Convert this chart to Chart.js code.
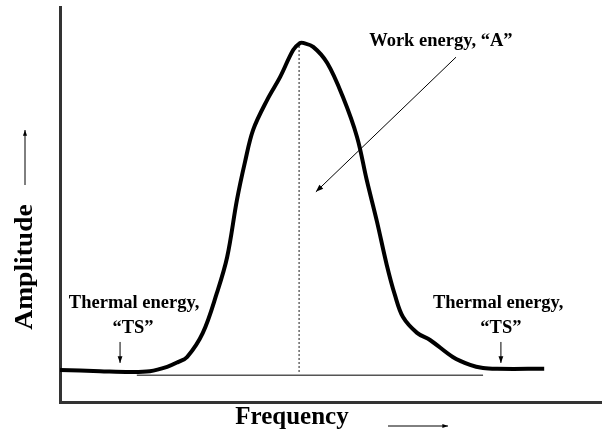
<!DOCTYPE html>
<html>
<head>
<meta charset="utf-8">
<script src="https://cdn.jsdelivr.net/npm/chart.js@4"></script>
<style>
  html, body { margin: 0; padding: 0; background: #fff; }
  #wrap { width: 608px; height: 441px; }
</style>
</head>
<body>
<div id="wrap"><canvas id="chart"></canvas></div>
<script>
// curve (frequency 0-100, amplitude 0-100)
const freq = [0, 7.4, 12.9, 16.6, 19.8, 21.8, 23.5, 26.4, 29.0, 30.9, 32.7, 34.2, 35.7, 38.3, 40.7, 43.1, 44.4, 44.9, 46.8, 49.4, 52.3, 54.9, 56.7, 58.6, 60.4, 61.9, 63.4, 66.0, 68.4, 72.6, 75.8, 78.2, 80.8, 89.5];
const amp = [8.1, 7.8, 7.6, 7.8, 8.9, 10.1, 11.4, 17.5, 27.6, 36.7, 51.1, 60.8, 68.9, 76.5, 82.3, 89.1, 90.9, 90.9, 89.9, 85.8, 77.2, 67.1, 56.2, 45.6, 34.7, 27.1, 21.5, 17.5, 15.7, 11.4, 9.4, 8.6, 8.4, 8.4];

// dotted line under the peak
const peakFreq = [44.2, 44.2];
const peakAmp = [7.6, 90.9];

// thin base line under the curve
const baseFreq = [14.2, 78.2];
const baseAmp = [6.8, 6.8];

const labels = ['Work energy, \u201cA\u201d', 'Thermal energy,', '\u201cTS\u201d'];
const axisTitles = ['Frequency', 'Amplitude'];

const toPts = (xs, ys) => xs.map((x, i) => ({ x, y: ys[i] }));

function arrow(ctx, x1, y1, x2, y2, head) {
  const a = Math.atan2(y2 - y1, x2 - x1);
  ctx.beginPath();
  ctx.moveTo(x1, y1);
  ctx.lineTo(x2, y2);
  ctx.stroke();
  ctx.beginPath();
  ctx.moveTo(x2, y2);
  ctx.lineTo(x2 - head * Math.cos(a - 0.35), y2 - head * Math.sin(a - 0.35));
  ctx.lineTo(x2 - head * Math.cos(a + 0.35), y2 - head * Math.sin(a + 0.35));
  ctx.closePath();
  ctx.fill();
}

const notes = {
  id: 'notes',
  afterDatasetsDraw(chart) {
    const { ctx, chartArea, scales: { x, y } } = chart;
    const px = v => x.getPixelForValue(v);
    const py = v => y.getPixelForValue(v);
    ctx.save();
    ctx.fillStyle = '#000';
    ctx.strokeStyle = '#000';
    ctx.textAlign = 'center';
    ctx.textBaseline = 'alphabetic';

    // work energy
    ctx.font = 'bold 18.5px "Liberation Serif", serif';
    ctx.fillText(labels[0], px(70.4), py(90.2));
    ctx.lineWidth = 1;
    arrow(ctx, px(73.2), py(87.3), px(47.3), py(53.2), 8);

    // thermal energy, left and right
    ctx.fillText(labels[1], px(13.7), py(23.8));
    ctx.fillText(labels[2], px(13.5), py(17.5));
    arrow(ctx, px(11.1), py(15.2), px(11.1), py(9.9), 7);
    ctx.fillText(labels[1], px(81.0), py(23.8));
    ctx.fillText(labels[2], px(81.5), py(17.5));
    arrow(ctx, px(81.5), py(15.2), px(81.5), py(9.9), 7);

    // axis titles with arrows
    ctx.font = 'bold 25px "Liberation Serif", serif';
    ctx.textBaseline = 'middle';
    ctx.fillText(axisTitles[0], 292, chartArea.bottom + 16);
    arrow(ctx, 388, chartArea.bottom + 24, 448, chartArea.bottom + 24, 6);

    ctx.save();
    ctx.translate(chartArea.left - 34, 267);
    ctx.rotate(-Math.PI / 2);
    ctx.scale(1.1, 1);
    ctx.fillText(axisTitles[1], 0, 0);
    ctx.restore();
    arrow(ctx, chartArea.left - 35, 185, chartArea.left - 35, 130, 6);

    ctx.restore();
  }
};

new Chart(document.getElementById('chart'), {
  type: 'line',
  data: {
    datasets: [
      {
        data: toPts(freq, amp),
        borderColor: '#000',
        borderWidth: 4,
        pointRadius: 0,
        tension: 0.35,
        fill: false,
      },
      {
        data: toPts(peakFreq, peakAmp),
        borderColor: '#666',
        borderWidth: 1.5,
        borderDash: [2, 2],
        pointRadius: 0,
      },
      {
        data: toPts(baseFreq, baseAmp),
        borderColor: '#555',
        borderWidth: 1.5,
        pointRadius: 0,
      },
    ],
  },
  options: {
    responsive: true,
    maintainAspectRatio: false,
    animation: false,
    layout: { padding: { left: 52, right: 7, top: 7, bottom: 31 } },
    plugins: { legend: { display: false }, tooltip: { enabled: false } },
    scales: {
      x: {
        type: 'linear',
        min: 0,
        max: 100,
        ticks: { display: false },
        grid: { display: false },
        border: { color: '#333', width: 3 },
      },
      y: {
        min: 0,
        max: 100,
        ticks: { display: false },
        grid: { display: false },
        border: { color: '#333', width: 3 },
      },
    },
  },
  plugins: [notes],
});
</script>
</body>
</html>
